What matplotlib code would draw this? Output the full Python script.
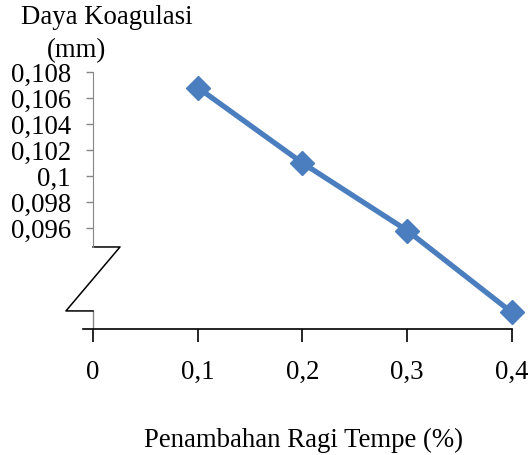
import matplotlib
matplotlib.use('Agg')
import matplotlib.pyplot as plt
from matplotlib.ticker import FuncFormatter

# ---------------------------------------------------------------------------
# Data
# ---------------------------------------------------------------------------
ragi_pct   = [0.1, 0.2, 0.3, 0.4]                  # Penambahan ragi tempe (%)
koagulasi  = [0.1068, 0.1010, 0.0958, 0.0895]      # Daya koagulasi (mm)

x_ticks = [0, 0.1, 0.2, 0.3, 0.4]
y_ticks = [0.096, 0.098, 0.100, 0.102, 0.104, 0.106, 0.108]

Y_MIN, Y_MAX = 0.08823, 0.108
BREAK_TOP, BREAK_BOT = 0.09454, 0.08962   # axis break (zig-zag) limits
BREAK_W = 0.0258                          # half width of the zig-zag in x units

LINE_COLOR = '#4A7EBE'
AXIS_GRAY  = '#868686'
FS = 19.3

plt.rcParams['font.family'] = ['Liberation Serif', 'DejaVu Serif']

comma = FuncFormatter(lambda v, _: f'{v:g}'.replace('.', ','))

fig = plt.figure(figsize=(5.31, 4.55), dpi=100)
ax = fig.add_axes([0.1751, 0.2769, 0.7891, 0.5649])

ax.plot(ragi_pct, koagulasi, color=LINE_COLOR, lw=3.8, marker='D',
        markersize=12.5, clip_on=False, zorder=5)

ax.set_xlim(0, 0.4)
ax.set_ylim(Y_MIN, Y_MAX)
ax.set_xticks(x_ticks)
ax.set_yticks(y_ticks)
ax.xaxis.set_major_formatter(comma)
ax.yaxis.set_major_formatter(comma)

for s in ('top', 'right'):
    ax.spines[s].set_visible(False)
ax.spines['left'].set_color(AXIS_GRAY)
ax.spines['left'].set_bounds(BREAK_TOP, Y_MAX)
ax.spines['bottom'].set_bounds(-0.0095, 0.4)
ax.spines['bottom'].set_linewidth(1.2)

ax.tick_params(axis='y', colors=AXIS_GRAY, labelcolor='black', length=5,
               width=1, pad=11, labelsize=FS)
ax.tick_params(axis='x', colors='black', length=9.5, width=1.2, pad=13,
               labelsize=FS)

# lower stub of the y axis and the break symbol
ax.plot([0, 0], [BREAK_BOT, Y_MIN], color=AXIS_GRAY, lw=1, clip_on=False)
ax.plot([0, BREAK_W, -BREAK_W, 0], [BREAK_TOP, BREAK_TOP, BREAK_BOT, BREAK_BOT],
        color='black', lw=1.1, clip_on=False)

fig.text(107 / 531, 1 - 18 / 455, 'Daya Koagulasi', ha='center', va='center',
         fontsize=FS)
fig.text(76 / 531, 1 - 51 / 455, '(mm)', ha='center', va='center',
         fontsize=FS)
fig.text(303 / 531, 1 - 440 / 455, 'Penambahan Ragi Tempe (%)', ha='center',
         va='center', fontsize=FS)

fig.savefig('out.png', dpi=100)
